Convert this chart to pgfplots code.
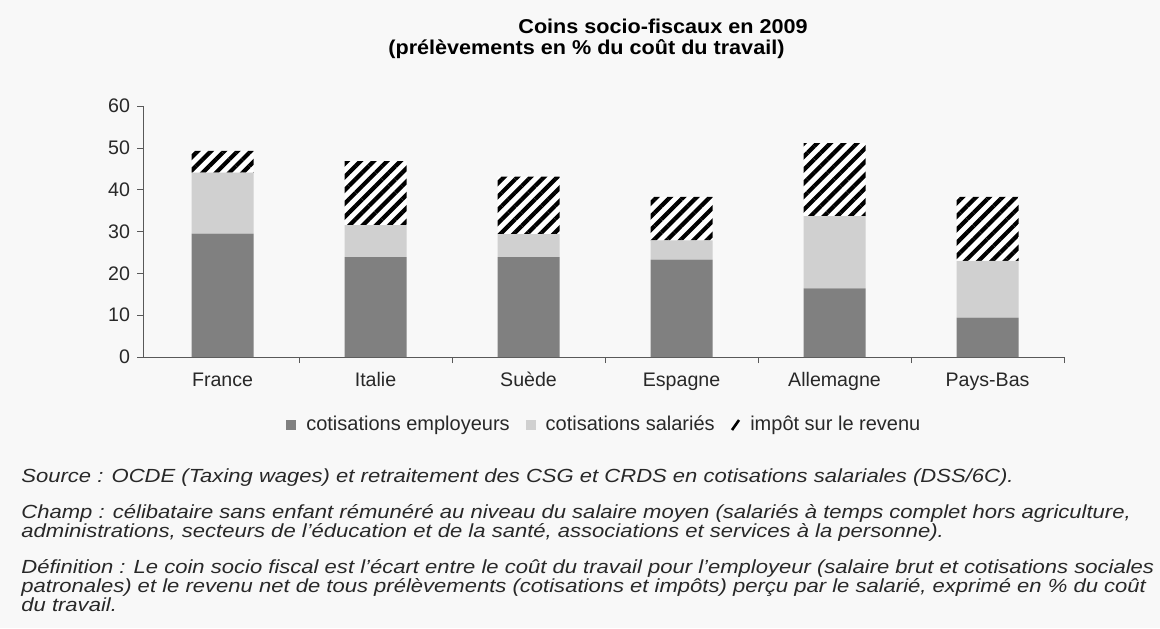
\documentclass[border=0pt]{standalone}
\usepackage{fontspec}
\setmainfont{Liberation Sans}
\newfontfamily\notefont[FakeStretch=1.16]{Liberation Sans}
\newfontfamily\titlefont[FakeStretch=1.08]{Liberation Sans}
\usepackage{pgfplots}
\pgfplotsset{compat=1.18}
\usetikzlibrary{patterns.meta}

\definecolor{employeur}{RGB}{128,128,128}
\definecolor{salarie}{RGB}{208,208,208}
\definecolor{fond}{RGB}{248,248,248}
\definecolor{texte}{RGB}{40,40,40}

% coin socio-fiscal 2009, en % du cout du travail
\pgfplotstableread{
idx emp  sal  imp
0   29.5 14.6 5.2
1   23.9 7.6  15.3
2   23.9 5.5  13.7
3   23.3 4.6  10.4
4   16.4 17.3 17.4
5   9.4  13.6 15.3
}\coins

\begin{document}
\begin{tikzpicture}[x=1pt,y=1pt]
\fill[fond] (0,0) rectangle (580,314);

\node[anchor=base west, inner sep=0pt, font=\titlefont\bfseries\fontsize{10}{11}\selectfont]
  at (259,297) {Coins socio-fiscaux en 2009};
\node[anchor=base west, inner sep=0pt, font=\titlefont\bfseries\fontsize{10}{11}\selectfont]
  at (194,287) {(prélèvements en \% du coût du travail)};

\begin{axis}[
  at={(71.5pt,135.5pt)}, anchor=south west,
  scale only axis,
  width=460.5pt, height=125.5pt,
  ybar stacked,
  bar width=31pt,
  xmin=-0.52, xmax=5.5,
  ymin=0, ymax=60,
  axis lines*=left,
  axis line style={draw=black!65},
  tick align=outside,
  xtick={0,...,5},
  xticklabels={France,Italie,Suède,Espagne,Allemagne,Pays-Bas},
  major x tick style={draw=none},
  minor xtick={0.5,1.5,2.5,3.5,4.5,5.5},
  minor x tick style={draw=black!65},
  minor tick length=3pt,
  ytick={0,10,...,60},
  y tick style={draw=black!65},
  major tick length=3pt,
  /pgf/number format/assume math mode=true,
  ticklabel style={font=\fontsize{9.8}{11}\selectfont, text=texte},
  xticklabel style={text height=7pt, text depth=2pt, yshift=-1pt},
  legend style={draw=none, fill=none, at={(0.502,-0.271)}, anchor=center,
    font=\fontsize{10}{11}\selectfont, text=texte,
    /tikz/every odd column/.append style={column sep=3pt},
    /tikz/every even column/.append style={column sep=6pt}},
  legend columns=3,
  legend cell align=left,
]
\addplot[fill=employeur, draw=none,
  legend image code/.code={\fill[employeur] (0pt,-2.5pt) rectangle (5pt,2.5pt);}]
  table[x=idx, y=emp] {\coins};
\addplot[fill=salarie, draw=none,
  legend image code/.code={\fill[salarie] (0pt,-2.5pt) rectangle (5pt,2.5pt);}]
  table[x=idx, y=sal] {\coins};
\addplot[fill=white, draw=none,
  postaction={pattern={Lines[angle=45, distance=4.7pt, line width=2.1pt]}},
  legend image code/.code={\draw[line width=1.3pt] (0.5pt,-2.5pt) -- (4pt,2.5pt);}]
  table[x=idx, y=imp] {\coins};
\legend{cotisations employeurs, cotisations salariés, impôt sur le revenu}
\end{axis}

\begin{scope}[every node/.style={anchor=base west, inner sep=0pt, text=texte,
    font=\notefont\itshape\fontsize{9.5}{10}\selectfont}]
\node at (10.5,73) {Source : OCDE (Taxing wages) et retraitement des CSG et CRDS en cotisations salariales (DSS/6C).};
\node at (10.5,55) {Champ : célibataire sans enfant rémunéré au niveau du salaire moyen (salariés à temps complet hors agriculture,};
\node at (10.5,45.5) {administrations, secteurs de l’éducation et de la santé, associations et services à la personne).};
\node at (10.5,27.5) {Définition : Le coin socio fiscal est l’écart entre le coût du travail pour l’employeur (salaire brut et cotisations sociales};
\node at (10.5,18) {patronales) et le revenu net de tous prélèvements (cotisations et impôts) perçu par le salarié, exprimé en \% du coût};
\node at (10.5,8.5) {du travail.};
\end{scope}
\end{tikzpicture}
\end{document}
